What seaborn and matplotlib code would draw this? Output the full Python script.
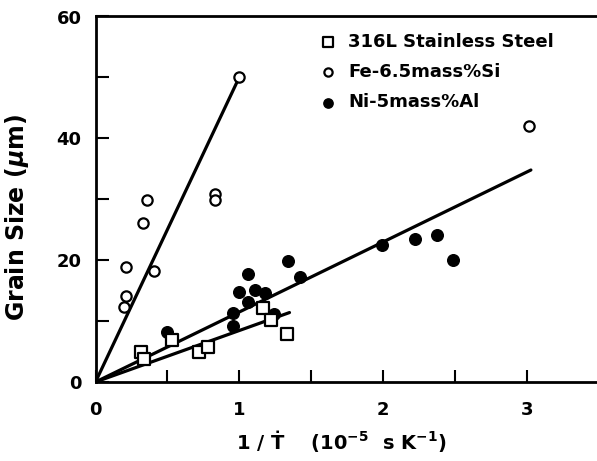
import numpy as np
import pandas as pd
import matplotlib
matplotlib.use("Agg")
import matplotlib.pyplot as plt
import seaborn as sns
from matplotlib.ticker import MultipleLocator, FixedLocator

# ---- data ----
ss_x = [0.32, 0.34, 0.53, 0.72, 0.78, 1.165, 1.22, 1.33]
ss_y = [5.0, 3.7, 6.9, 5.0, 5.8, 12.1, 10.2, 7.9]

fe_x = [0.20, 0.21, 0.21, 0.33, 0.36, 0.41, 0.835, 0.835, 1.0, 3.015]
fe_y = [12.3, 14.1, 18.8, 26.1, 29.8, 18.2, 30.9, 29.8, 50.0, 42.0]

ni_x = [0.50, 0.955, 0.96, 1.0, 1.06, 1.06, 1.11, 1.18, 1.245, 1.34, 1.42,
        1.995, 2.22, 2.38, 2.49]
ni_y = [8.2, 11.3, 9.2, 14.7, 17.7, 13.2, 15.1, 14.6, 11.1, 19.9, 17.3,
        22.5, 23.5, 24.2, 20.1]

# fitted lines through origin: end points
fit_names = ["Fe", "Ni", "316L"]
fit_x_end = [1.0, 3.03, 1.35]
fit_y_end = [50.0, 34.8, 11.4]

labels = ["316L Stainless Steel", "Fe-6.5mass%Si", "Ni-5mass%Al"]
xticks_major = [0, 1, 2, 3]
yticks_major = [0, 20, 40, 60]

sns.set_theme(style="ticks")
plt.rcParams["font.family"] = ["DejaVu Sans"]
plt.rcParams["font.weight"] = "bold"
plt.rcParams["text.color"] = "black"
plt.rcParams["axes.labelcolor"] = "black"
plt.rcParams["xtick.color"] = "black"
plt.rcParams["ytick.color"] = "black"
plt.rcParams["mathtext.fontset"] = "custom"
plt.rcParams["mathtext.rm"] = "DejaVu Sans:bold"
plt.rcParams["mathtext.it"] = "DejaVu Sans:bold:italic"
plt.rcParams["mathtext.bf"] = "DejaVu Sans:bold"

W, H = 597, 461
fig = plt.figure(figsize=(W / 100, H / 100), dpi=100)
ax_l, ax_b, ax_t = 95.5, 382, 16.5
ax = fig.add_axes([ax_l / W, (H - ax_b) / H, 1 - ax_l / W, (ax_b - ax_t) / H])
axw, axh = W - ax_l, ax_b - ax_t

# fit lines
lines_df = pd.DataFrame({
    "x": sum([[0.0, xe] for xe in fit_x_end], []),
    "y": sum([[0.0, ye] for ye in fit_y_end], []),
    "fit": sum([[n, n] for n in fit_names], []),
})
for n in fit_names:
    sub = lines_df[lines_df["fit"] == n]
    sns.lineplot(data=sub, x="x", y="y", ax=ax, color="black", lw=2.3,
                 legend=False, sort=False, zorder=2)

sns.scatterplot(x=ss_x, y=ss_y, ax=ax, marker="s", s=85, facecolor="white",
                edgecolor="black", linewidth=1.6, label=labels[0], zorder=4)
sns.scatterplot(x=fe_x, y=fe_y, ax=ax, marker="o", s=55, facecolor="white",
                edgecolor="black", linewidth=1.6, label=labels[1], zorder=4)
sns.scatterplot(x=ni_x, y=ni_y, ax=ax, marker="o", s=70, facecolor="black",
                edgecolor="black", linewidth=1.0, label=labels[2], zorder=3)

ax.set_xlim(0, 3.49)
ax.set_ylim(0, 60)
ax.xaxis.set_major_locator(FixedLocator(xticks_major))
ax.xaxis.set_minor_locator(MultipleLocator(0.5))
ax.yaxis.set_major_locator(FixedLocator(yticks_major))
ax.yaxis.set_minor_locator(MultipleLocator(10))
ax.tick_params(which="both", direction="in", length=9, width=1.5,
               labelsize=13, color="black")
ax.tick_params(axis="x", which="both", pad=14)
ax.tick_params(axis="y", which="both", pad=10)
for lab in ax.get_xticklabels() + ax.get_yticklabels():
    lab.set_fontweight("bold")

for sp in ["left", "bottom", "top"]:
    ax.spines[sp].set_linewidth(2)
    ax.spines[sp].set_color("black")
ax.spines["right"].set_visible(False)

ax.set_ylabel("Grain Size ($\\mu$m)", fontsize=17, fontweight="bold")
ax.yaxis.set_label_coords((31 - ax_l) / axw, (ax_b - 218) / axh)
ax.set_xlabel("1 / Ṫ    (10$^{-5}$  s K$^{-1}$)", fontsize=14, fontweight="bold")
ax.xaxis.set_label_coords((341 - ax_l) / axw, -(428 - ax_b) / axh)

leg = ax.legend(loc="upper left", bbox_to_anchor=(0.425, 0.98), frameon=False,
                prop={"weight": "bold", "size": 13}, handletextpad=0.5,
                labelspacing=0.68, borderpad=0, handlelength=1.2,
                markerscale=0.8)

fig.savefig("out.png", dpi=100)
